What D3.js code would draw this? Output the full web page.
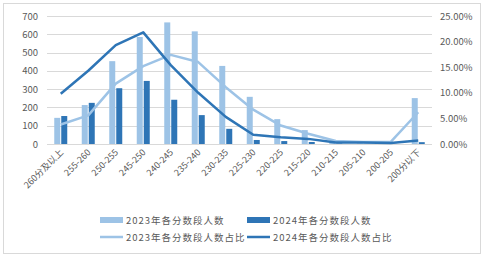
<!DOCTYPE html>
<html>
<head>
<meta charset="utf-8">
<script src="https://cdn.jsdelivr.net/npm/d3@7"></script>
<style>
  body { margin: 0; background: #fff; }
  text { font-family: "Noto Sans CJK SC", "Noto Sans", sans-serif; fill: #595959; }
</style>
</head>
<body>
<div id="chart"></div>
<script>
  // categorieen en waarden
  var categories = ['260分及以上', '255-260', '250-255', '245-250', '240-245', '235-240', '230-235',
    '225-230', '220-225', '215-220', '210-215', '205-210', '200-205', '200分以下'];
  var count2023 = [143, 213, 453, 585, 665, 616, 427, 258, 136, 76, 6, 3, 2, 251];
  var count2024 = [153, 225, 305, 345, 242, 158, 83, 22, 16, 11, 3, 1, 1, 10];
  var share2023 = [3.8, 5.6, 11.8, 15.2, 17.4, 16.0, 11.1, 6.7, 3.6, 2.0, 0.6, 0.4, 0.4, 6.2];
  var share2024 = [9.8, 14.3, 19.3, 21.8, 15.4, 10.0, 5.3, 1.8, 1.3, 1.0, 0.3, 0.3, 0.2, 0.7];
  var leftTicks = [0, 100, 200, 300, 400, 500, 600, 700];
  var rightTicks = [0, 5, 10, 15, 20, 25];

  var light = '#9dc3e6', dark = '#2e75b6';

  var margin = {top: 16, right: 54, bottom: 117, left: 47};
  var width = 486 - margin.left - margin.right;
  var height = 261 - margin.top - margin.bottom;

  var svg = d3.select('#chart')
    .append('svg')
    .attr('width', 486)
    .attr('height', 261);

  // rand om de grafiek
  svg.append('rect')
    .attr('x', 3.5).attr('y', 3.5)
    .attr('width', 477).attr('height', 250)
    .attr('fill', 'none')
    .attr('stroke', '#d9d9d9');

  var g = svg.append('g')
    .attr('transform', 'translate(' + margin.left + ',' + margin.top + ')');

  var x = d3.scaleBand().domain(categories).range([0, width]);
  var yLeft = d3.scaleLinear().domain([0, 700]).range([height, 0]);
  var yRight = d3.scaleLinear().domain([0, 25]).range([height, 0]);

  // rasterlijnen
  g.selectAll('.grid')
    .data(leftTicks.slice(1))
    .enter().append('line')
    .attr('x1', 0).attr('x2', width)
    .attr('y1', function(d){ return Math.round(yLeft(d)) + 0.5; })
    .attr('y2', function(d){ return Math.round(yLeft(d)) + 0.5; })
    .attr('stroke', '#d9d9d9');

  // linker as
  var leftAxis = g.append('g')
    .call(d3.axisLeft(yLeft).tickValues(leftTicks).tickSize(0).tickPadding(9));
  leftAxis.select('.domain').remove();
  leftAxis.selectAll('text').style('font-size', '9.5px').style('fill', '#595959');

  // rechter as
  var rightAxis = g.append('g')
    .attr('transform', 'translate(' + width + ',0)')
    .call(d3.axisRight(yRight).tickValues(rightTicks).tickSize(0).tickPadding(8)
      .tickFormat(function(d){ return d.toFixed(2) + '%'; }));
  rightAxis.select('.domain').remove();
  rightAxis.selectAll('text').style('font-size', '9.5px').style('fill', '#595959');

  // staven
  var barW = 6;
  g.selectAll('.bar23')
    .data(count2023)
    .enter().append('rect')
    .attr('x', function(d, i){ return x(categories[i]) + x.bandwidth() / 2 - barW - 0.5; })
    .attr('y', function(d){ return yLeft(d); })
    .attr('width', barW)
    .attr('height', function(d){ return height - yLeft(d); })
    .attr('fill', light);

  g.selectAll('.bar24')
    .data(count2024)
    .enter().append('rect')
    .attr('x', function(d, i){ return x(categories[i]) + x.bandwidth() / 2 + 0.5; })
    .attr('y', function(d){ return yLeft(d); })
    .attr('width', barW)
    .attr('height', function(d){ return height - yLeft(d); })
    .attr('fill', dark);

  // x-as lijn
  g.append('line')
    .attr('x1', 0).attr('x2', width)
    .attr('y1', height + 0.5).attr('y2', height + 0.5)
    .attr('stroke', '#d9d9d9');

  // lijnen voor de percentages
  var line = d3.line()
    .x(function(d, i){ return x(categories[i]) + x.bandwidth() / 2; })
    .y(function(d){ return yRight(d); });

  g.append('path')
    .datum(share2023)
    .attr('d', line)
    .attr('fill', 'none')
    .attr('stroke', light)
    .attr('stroke-width', 2.5)
    .attr('stroke-linejoin', 'round');

  g.append('path')
    .datum(share2024)
    .attr('d', line)
    .attr('fill', 'none')
    .attr('stroke', dark)
    .attr('stroke-width', 2.5)
    .attr('stroke-linejoin', 'round');

  // categorie labels, gedraaid
  g.selectAll('.xlabel')
    .data(categories)
    .enter().append('text')
    .attr('transform', function(d){
      return 'translate(' + (x(d) + x.bandwidth() / 2 + 3) + ',' + (height + 9) + ') rotate(-45)';
    })
    .attr('text-anchor', 'end')
    .style('font-size', '9px')
    .text(function(d){ return d; });

  // legenda
  var legend = [
    {label: '2023年各分数段人数', color: light, type: 'bar', x: 100, y: 220},
    {label: '2024年各分数段人数', color: dark, type: 'bar', x: 247, y: 220},
    {label: '2023年各分数段人数占比', color: light, type: 'line', x: 100, y: 237},
    {label: '2024年各分数段人数占比', color: dark, type: 'line', x: 247, y: 237}
  ];

  legend.forEach(function(l){
    if (l.type === 'bar') {
      svg.append('rect')
        .attr('x', l.x).attr('y', l.y - 3)
        .attr('width', 23).attr('height', 6)
        .attr('fill', l.color);
    } else {
      svg.append('line')
        .attr('x1', l.x).attr('x2', l.x + 23)
        .attr('y1', l.y).attr('y2', l.y)
        .attr('stroke', l.color)
        .attr('stroke-width', 2.5);
    }
    svg.append('text')
      .attr('x', l.x + 26)
      .attr('y', l.y + 3.5)
      .style('font-size', '9.5px')
      .style('letter-spacing', '1px')
      .text(l.label);
  });
</script>
</body>
</html>
